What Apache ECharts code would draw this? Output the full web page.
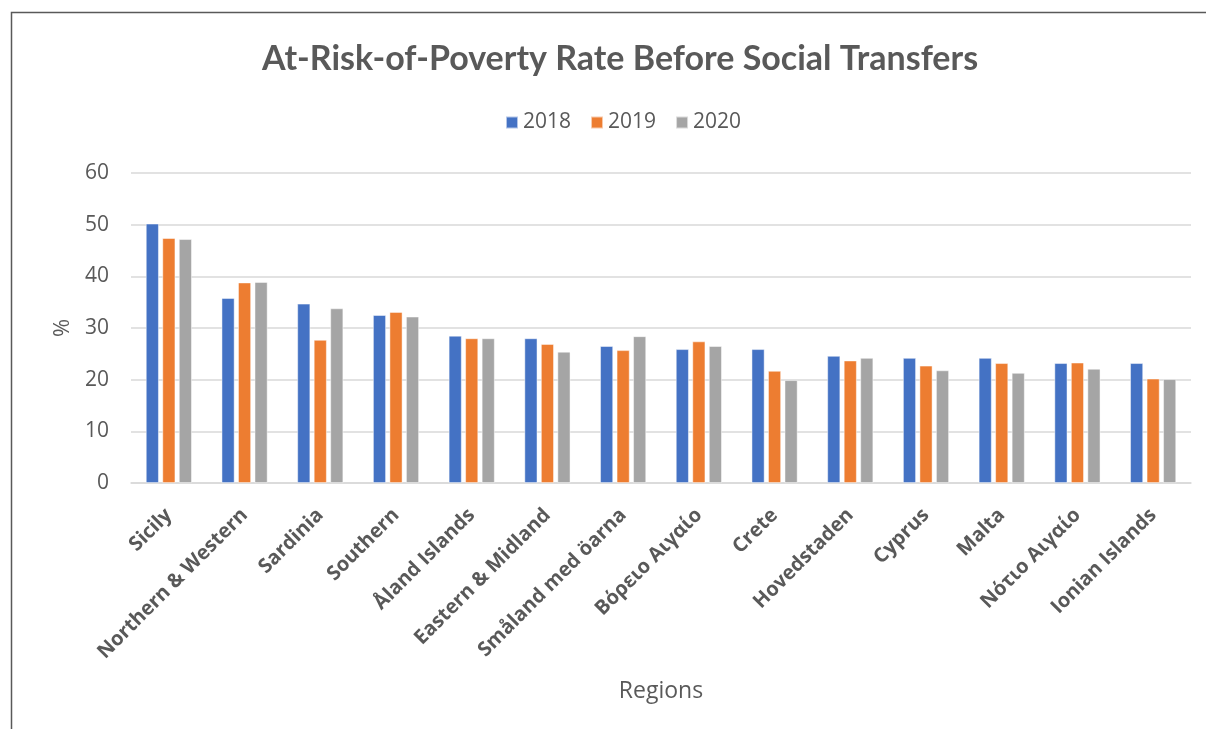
<!DOCTYPE html>
<html>
<head>
<meta charset="utf-8">
<title>At-Risk-of-Poverty Rate Before Social Transfers</title>
<script src="https://cdn.jsdelivr.net/npm/echarts@6/dist/echarts.min.js"></script>
<style>
  html, body { margin: 0; padding: 0; background: #fff; }
  #chart { width: 1206px; height: 729px; }
</style>
</head>
<body>
<div id="chart"></div>
<script>
// Regions ranked by their 2018 rate
const regions = [
  'Sicily', 'Northern & Western', 'Sardinia', 'Southern', 'Åland Islands',
  'Eastern & Midland', 'Småland med öarna', 'Βόρειο Αιγαίο', 'Crete',
  'Hovedstaden', 'Cyprus', 'Malta', 'Νότιο Αιγαίο', 'Ionian Islands'
];
const years = ['2018', '2019', '2020'];

// At-risk-of-poverty rate before social transfers, %
const rate2018 = [50.2, 35.8, 34.7, 32.5, 28.5, 28.0, 26.5, 25.9, 25.9, 24.6, 24.2, 24.2, 23.2, 23.2];
const rate2019 = [47.4, 38.8, 27.7, 33.1, 28.0, 26.9, 25.7, 27.4, 21.7, 23.7, 22.7, 23.2, 23.3, 20.2];
const rate2020 = [47.2, 38.9, 33.8, 32.2, 28.0, 25.4, 28.4, 26.5, 19.9, 24.2, 21.8, 21.3, 22.1, 20.1];

const yTicks = [0, 10, 20, 30, 40, 50, 60];

const palette = ['#4472C4', '#ED7D31', '#A5A5A5'];
const textColor = '#595959';

const seriesValues = [rate2018, rate2019, rate2020];

const chart = echarts.init(document.getElementById('chart'), null, { renderer: 'canvas' });

chart.setOption({
  animation: false,
  color: palette,
  title: {
    text: 'At-Risk-of-Poverty Rate Before Social Transfers',
    left: 615,
    top: 37,
    textAlign: 'center',
    textStyle: {
      fontFamily: 'Lato',
      fontWeight: 'bold',
      fontSize: 34,
      color: textColor
    }
  },
  legend: {
    data: years,
    top: 107,
    left: 500,
    itemWidth: 12,
    itemHeight: 12,
    itemGap: 19,
    icon: 'rect',
    textStyle: { fontFamily: 'Open Sans', fontSize: 21, color: textColor }
  },
  grid: {
    left: 131,
    right: 15,
    top: 173,
    bottom: 246,
    containLabel: false
  },
  xAxis: {
    type: 'category',
    data: regions,
    name: 'Regions',
    nameLocation: 'middle',
    nameGap: 197,
    nameTextStyle: { fontFamily: 'Open Sans', fontSize: 23, color: textColor },
    axisLine: { lineStyle: { color: '#D9D9D9', width: 1.5 } },
    axisTick: { show: false },
    axisLabel: {
      rotate: 45,
      interval: 0,
      margin: 29,
      fontFamily: 'Open Sans',
      fontWeight: 'bold',
      fontSize: 20,
      color: textColor
    }
  },
  yAxis: {
    type: 'value',
    min: yTicks[0],
    max: yTicks[yTicks.length - 1],
    interval: 10,
    name: '%',
    nameLocation: 'middle',
    nameGap: 55,
    nameRotate: 90,
    nameTextStyle: { fontFamily: 'Open Sans', fontSize: 22, color: textColor },
    axisLine: { show: false },
    axisTick: { show: false },
    splitLine: { lineStyle: { color: '#D9D9D9', width: 1.5 } },
    axisLabel: {
      margin: 22,
      fontFamily: 'Open Sans',
      fontSize: 21,
      color: textColor
    }
  },
  series: years.map((y, i) => ({
    name: y,
    type: 'bar',
    data: seriesValues[i],
    barWidth: 13,
    barGap: '27%',
    itemStyle: { borderColor: 'rgba(255,255,255,0.6)', borderWidth: 0.8 }
  })),
  graphic: [{
    type: 'rect',
    shape: { x: 11.5, y: 12.5, width: 1220, height: 740 },
    style: { fill: 'none', stroke: '#595959', lineWidth: 1.5 },
    silent: true,
    z: 100
  }]
});
</script>
</body>
</html>
